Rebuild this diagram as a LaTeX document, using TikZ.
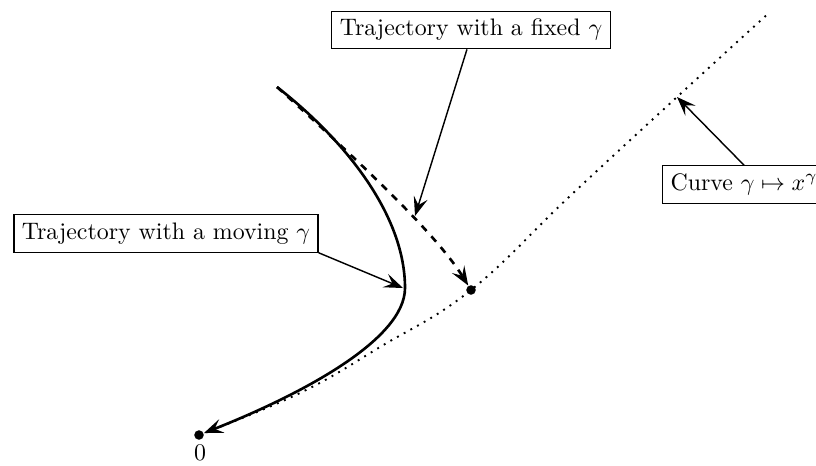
\documentclass[tikz,border=0pt]{standalone}
\usetikzlibrary{arrows.meta}
\begin{document}
\begin{tikzpicture}[x=0.419pt,y=-0.419pt,
  lbl/.style={draw,line width=0.5pt,fill=white,inner sep=3.33pt},
  conn/.style={line width=0.6pt,-{Stealth[length=8pt,width=6pt,inset=3.2pt]}},
  traj/.style={line width=1.1pt},
  pt/.style={circle,fill=black,inner sep=0pt,minimum size=4pt}]
\useasboundingbox (0,0) rectangle (816,465);
% key points
\coordinate (start) at (277,87);
\node[pt] (zero) at (199,435) {};
\node[pt] (fixpt) at (471,290) {};
\node[anchor=north,inner sep=1pt] (zerolbl) at (200,442) {$0$};
% dotted curve gamma -> x^gamma
\draw[line width=0.8pt,dash pattern=on 0.8pt off 2.4pt]
  plot[smooth,tension=0.7] coordinates {(199,435) (300,393) (380,347) (471,290) (570,196) (677,97) (770,12)};
\coordinate (oncurve) at (677,97);
% dashed trajectory (fixed gamma)
\draw[traj,dashed,-{Stealth[length=8pt,width=6pt,inset=3.2pt]}]
  (start) .. controls (380,180) and (440,240) .. (fixpt);
\coordinate (ondash) at (415,216);
% solid trajectory (moving gamma)
\draw[traj,-{Stealth[length=8pt,width=6pt,inset=3.2pt]}]
  (start) .. controls (345,140) and (405,215) .. (405,288)
  .. controls (405,340) and (300,395) .. (zero);
\coordinate (onsolid) at (403,288);
% labels
\node[lbl] (moving) at (166,233.5) {Trajectory with a moving $\gamma$};
\node[lbl] (fixed) at (471,30) {Trajectory with a fixed $\gamma$};
\node[lbl,anchor=west] (curve) at (662,184.5) {Curve $\gamma\mapsto x^{\gamma}$};
% connectors
\draw[conn] (moving.south east) -- (onsolid);
\draw[conn] ([xshift=-1.7pt]fixed.south) -- (ondash);
\draw[conn] (curve.north) -- (oncurve);
\end{tikzpicture}
\end{document}
